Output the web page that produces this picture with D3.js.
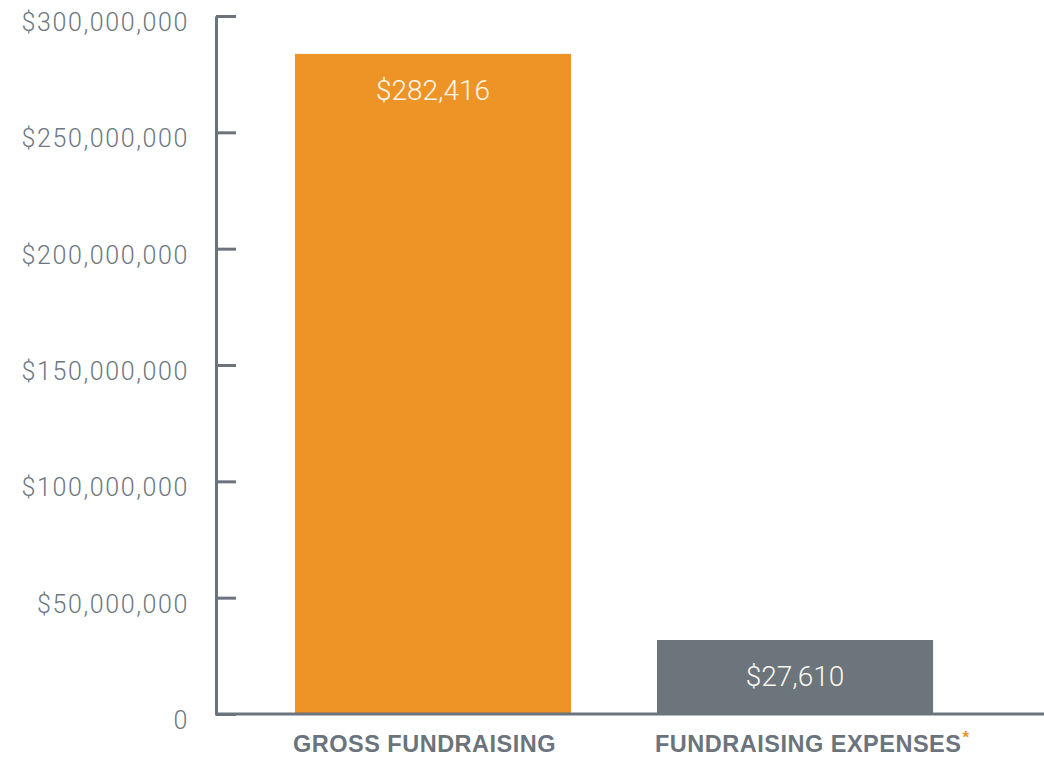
<!DOCTYPE html>
<html>
<head>
<meta charset="utf-8">
<script src="https://cdn.jsdelivr.net/npm/d3@7"></script>
<style>
  body { margin: 0; background: #fff; }
  svg { display: block; }
  .tick text { font-family: Roboto, "Liberation Sans", sans-serif; font-weight: 300; }
</style>
</head>
<body>
<script>
// data
var categories = ["GROSS FUNDRAISING", "FUNDRAISING EXPENSES"];
var values = [283700000, 31800000];          // bar heights as drawn
var valueLabels = ["$282,416", "$27,610"];   // printed inside the bars
var footnote = [false, true];                // orange asterisk after the label
var yTicks = [0, 50000000, 100000000, 150000000, 200000000, 250000000, 300000000];

var barColors = ["#ee9426", "#6b757b"];
var axisColor = "#6b747c";

var width = 1044, height = 763;

var svg = d3.select("body").append("svg")
    .attr("width", width)
    .attr("height", height);

// scales
var y = d3.scaleLinear()
    .domain([0, 300000000])
    .range([714, 16]);

var x = d3.scaleBand()
    .domain(categories)
    .range([216, 1012])
    .paddingInner(0.2376)
    .paddingOuter(0.218);

// bars
svg.selectAll(".bar")
    .data(values)
  .enter().append("rect")
    .attr("class", "bar")
    .attr("x", function(d, i) { return x(categories[i]); })
    .attr("y", function(d) { return y(d); })
    .attr("width", x.bandwidth())
    .attr("height", function(d) { return y(0) - y(d); })
    .attr("fill", function(d, i) { return barColors[i]; });

// value labels in the bars
svg.selectAll(".vlabel")
    .data(values)
  .enter().append("text")
    .attr("class", "vlabel")
    .attr("x", function(d, i) { return x(categories[i]) + x.bandwidth() / 2; })
    .attr("y", function(d) { return y(d) + 46; })
    .attr("text-anchor", "middle")
    .attr("fill", "#fdf6ee")
    .style("font-family", "Roboto, 'Liberation Sans', sans-serif")
    .style("font-weight", 300)
    .style("font-size", "28px")
    .text(function(d, i) { return valueLabels[i]; });

// y axis, ticks pointing inward
var fmt = d3.format(",");
var yAxis = d3.axisLeft(y)
    .tickValues(yTicks)
    .tickSizeInner(-20)
    .tickSizeOuter(0)
    .tickPadding(27)
    .tickFormat(function(d) { return d === 0 ? "0" : "$" + fmt(d); });

var gy = svg.append("g")
    .attr("transform", "translate(216,0)")
    .call(yAxis);

gy.select(".domain")
    .attr("stroke", axisColor)
    .attr("stroke-width", 3);
gy.selectAll(".tick line")
    .attr("stroke", axisColor)
    .attr("stroke-width", 3);
gy.selectAll(".tick text")
    .attr("fill", "#6d777f")
    .attr("dy", "0.58em")
    .style("font-size", "25px")
    .style("letter-spacing", "1.6px");

// x axis baseline
svg.append("line")
    .attr("x1", 215)
    .attr("x2", width)
    .attr("y1", y(0))
    .attr("y2", y(0))
    .attr("stroke", axisColor)
    .attr("stroke-width", 3);

// category labels
var cl = svg.selectAll(".clabel")
    .data(categories)
  .enter().append("text")
    .attr("class", "clabel")
    .attr("x", function(d) { return x(d) - 2; })
    .attr("y", 752)
    .attr("fill", axisColor)
    .style("font-family", "'Liberation Sans', Arial, sans-serif")
    .style("font-weight", "bold")
    .style("font-size", "23.5px")
    .style("letter-spacing", "0.5px");

cl.append("tspan").text(function(d) { return d; });
cl.filter(function(d, i) { return footnote[i]; })
  .append("tspan")
    .attr("dx", 1)
    .attr("dy", -9)
    .attr("fill", "#ee9426")
    .style("font-size", "17px")
    .text("*");
</script>
</body>
</html>
